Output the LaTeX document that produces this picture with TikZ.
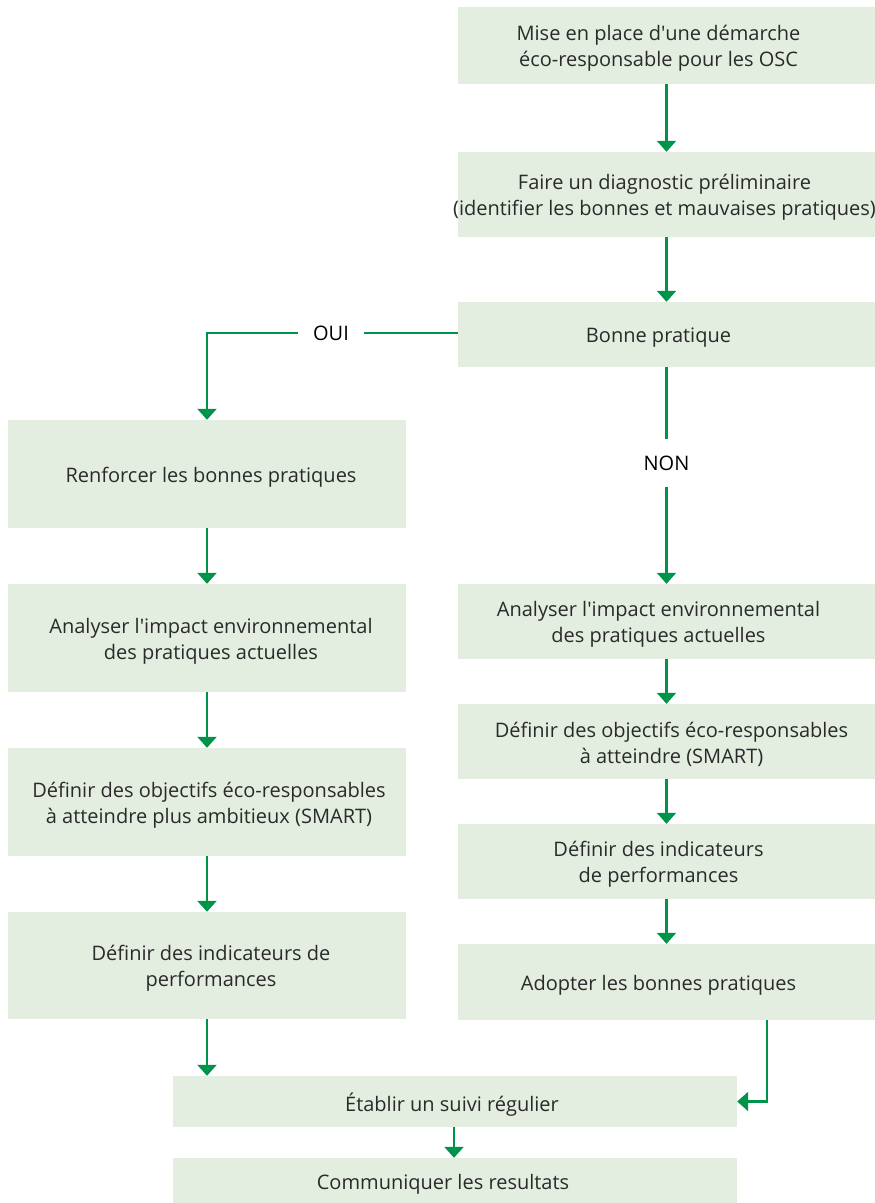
\documentclass[tikz,border=0pt]{standalone}
\usepackage{fontspec}
\setmainfont{Open Sans}
\usetikzlibrary{arrows.meta}
\definecolor{boxfill}{HTML}{E4EEE0}
\definecolor{arrowgreen}{HTML}{00934A}
\definecolor{txtcol}{HTML}{2A2A2A}
\newcommand{\apos}{\textquotesingle}
\begin{document}
\begin{tikzpicture}[x=1pt,y=-1pt,
  box/.style={fill=boxfill, draw=none, inner sep=0pt},
  txt/.style={align=center, text=txtcol, font=\fontsize{20}{26}\selectfont, inner sep=0pt, yshift=-3pt},
  flow/.style={draw=arrowgreen, line width=2.4pt, -{Triangle[width=19pt,length=11pt]}},
  seg/.style={draw=arrowgreen, line width=2.4pt},
  lbl/.style={text=black, font=\fontsize{20}{24}\selectfont, inner ysep=0pt}]
\useasboundingbox (0,0) rectangle (875,1203);
% right column
\node[box, minimum width=417pt, minimum height=77pt] (b1) at (666.5,45.5) {};
\node[txt] (t1) at ([xshift=-8pt]b1.center) {Mise en place d\apos une démarche\\éco-responsable pour les OSC};
\node[box, minimum width=417pt, minimum height=85pt] (b2) at (666.5,194.5) {};
\node[txt] (t2) at ([xshift=-2pt]b2.center) {Faire un diagnostic préliminaire\\(identifier les bonnes et mauvaises pratiques)};
\node[box, minimum width=417pt, minimum height=65pt] (b3) at (666.5,334.5) {};
\node[txt] (t3) at ([xshift=-8pt]b3.center) {Bonne pratique};
\node[box, minimum width=417pt, minimum height=75pt] (r1) at (666.5,621.5) {};
\node[txt] (tr1) at ([xshift=-8pt]r1.center) {Analyser l\apos impact environnemental\\des pratiques actuelles};
\node[box, minimum width=417pt, minimum height=75pt] (r2) at (666.5,741.5) {};
\node[txt] (tr2) at ([xshift=5pt]r2.center) {Définir des objectifs éco-responsables\\à atteindre (SMART)};
\node[box, minimum width=417pt, minimum height=75pt] (r3) at (666.5,861.5) {};
\node[txt] (tr3) at ([xshift=-8pt]r3.center) {Définir des indicateurs\\de performances};
\node[box, minimum width=417pt, minimum height=76pt] (r4) at (666.5,982) {};
\node[txt] (tr4) at ([xshift=-8pt]r4.center) {Adopter les bonnes pratiques};
% left column
\node[box, minimum width=398pt, minimum height=108pt] (l1) at (207,474) {};
\node[txt] (tl1) at ([xshift=4pt]l1.center) {Renforcer les bonnes pratiques};
\node[box, minimum width=398pt, minimum height=108pt] (l2) at (207,638) {};
\node[txt] (tl2) at ([xshift=4pt]l2.center) {Analyser l\apos impact environnemental\\des pratiques actuelles};
\node[box, minimum width=398pt, minimum height=108pt] (l3) at (207,802) {};
\node[txt] (tl3) at ([xshift=2pt]l3.center) {Définir des objectifs éco-responsables\\à atteindre plus ambitieux (SMART)};
\node[box, minimum width=398pt, minimum height=107pt] (l4) at (207,965.5) {};
\node[txt] (tl4) at ([xshift=4pt]l4.center) {Définir des indicateurs de\\performances};
% bottom
\node[box, minimum width=564pt, minimum height=51pt] (e) at (455,1101.5) {};
\node[txt] (te) at ([xshift=-3pt]e.center) {Établir un suivi régulier};
\node[box, minimum width=564pt, minimum height=45pt] (c) at (455,1180.5) {};
\node[txt] (tc) at ([xshift=-12pt,yshift=-1pt]c.center) {Communiquer les resultats};
% labels
\node[lbl, inner xsep=15pt] (oui) at (331,333) {OUI};
\node[lbl, inner ysep=16pt] (non) at (666.5,463) {NON};
% connectors
\draw[flow] (b1.south) -- (b2.north);
\draw[flow] (b2.south) -- (b3.north);
\draw[seg] (b3.west |- oui.east) -- (oui.east);
\draw[flow] (oui.west) -| (l1.north);
\draw[seg] (b3.south) -- (non.north);
\draw[flow] (non.south) -- (r1.north);
\draw[flow] (r1.south) -- (r2.north);
\draw[flow] (r2.south) -- (r3.north);
\draw[flow] (r3.south) -- (r4.north);
\draw[flow] (l1.south) -- (l2.north);
\draw[flow] (l2.south) -- (l3.north);
\draw[flow] (l3.south) -- (l4.north);
\draw[flow] (l4.south) -- (l4.south |- e.north);
\draw[flow] ([xshift=100.5pt]r4.south) |- (e.east);
\draw[flow] ([xshift=-1pt]e.south) -- ([xshift=-1pt]c.north);
\end{tikzpicture}
\end{document}
